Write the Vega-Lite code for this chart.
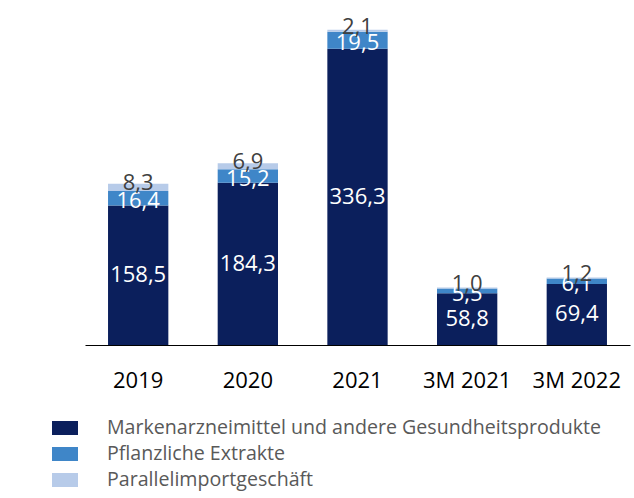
{
  "$schema": "https://vega.github.io/schema/vega-lite/v6.json",
  "autosize": {"type": "none"},
  "width": 545,
  "height": 317,
  "padding": {"left": 85, "top": 28, "right": 4, "bottom": 153},
  "config": {
    "view": {"stroke": null},
    "font": "Open Sans",
    "locale": {"number": {"decimal": ",", "thousands": ".", "grouping": [3], "currency": ["", " €"]}}
  },
  "data": {
    "values": [
      {"period": "2019", "series": "Markenarzneimittel und andere Gesundheitsprodukte", "order": 1, "value": 158.5},
      {"period": "2019", "series": "Pflanzliche Extrakte", "order": 2, "value": 16.4},
      {"period": "2019", "series": "Parallelimportgeschäft", "order": 3, "value": 8.3},
      {"period": "2020", "series": "Markenarzneimittel und andere Gesundheitsprodukte", "order": 1, "value": 184.3},
      {"period": "2020", "series": "Pflanzliche Extrakte", "order": 2, "value": 15.2},
      {"period": "2020", "series": "Parallelimportgeschäft", "order": 3, "value": 6.9},
      {"period": "2021", "series": "Markenarzneimittel und andere Gesundheitsprodukte", "order": 1, "value": 336.3},
      {"period": "2021", "series": "Pflanzliche Extrakte", "order": 2, "value": 19.5},
      {"period": "2021", "series": "Parallelimportgeschäft", "order": 3, "value": 2.1},
      {"period": "3M 2021", "series": "Markenarzneimittel und andere Gesundheitsprodukte", "order": 1, "value": 58.8},
      {"period": "3M 2021", "series": "Pflanzliche Extrakte", "order": 2, "value": 5.5},
      {"period": "3M 2021", "series": "Parallelimportgeschäft", "order": 3, "value": 1.0},
      {"period": "3M 2022", "series": "Markenarzneimittel und andere Gesundheitsprodukte", "order": 1, "value": 69.4},
      {"period": "3M 2022", "series": "Pflanzliche Extrakte", "order": 2, "value": 6.1},
      {"period": "3M 2022", "series": "Parallelimportgeschäft", "order": 3, "value": 1.2}
    ]
  },
  "transform": [
    {"stack": "value", "groupby": ["period"], "sort": [{"field": "order", "order": "ascending"}], "as": ["v0", "v1"]},
    {"calculate": "(datum.v0 + datum.v1) / 2", "as": "vmid"}
  ],
  "encoding": {
    "x": {
      "field": "period", "type": "nominal", "sort": null,
      "scale": {"paddingInner": 0.45, "paddingOuter": 0.21},
      "axis": {"title": null, "labelAngle": 0, "ticks": false, "domainColor": "#000000", "domainWidth": 1, "labelFontSize": 22, "labelColor": "#000000", "labelPadding": 25, "labelFont": "Open Sans"}
    }
  },
  "resolve": {"scale": {"y": "shared"}},
  "layer": [
    {
      "mark": {"type": "bar"},
      "encoding": {
        "y": {"field": "v0", "type": "quantitative", "scale": {"domain": [0, 360], "nice": false, "zero": true}, "axis": null},
        "y2": {"field": "v1"},
        "color": {
          "field": "series", "type": "nominal",
          "scale": {
            "domain": ["Markenarzneimittel und andere Gesundheitsprodukte", "Pflanzliche Extrakte", "Parallelimportgeschäft"],
            "range": ["#0b1f5c", "#3f86c8", "#b7cbe9"]
          },
          "legend": {
            "title": null, "orient": "none", "legendX": -33, "legendY": 387, "direction": "vertical",
            "symbolType": "M-1,-0.54H1V0.54H-1Z", "symbolSize": 676, "symbolStrokeWidth": 0,
            "labelFontSize": 19.6, "labelColor": "#595959", "labelOffset": 29, "rowPadding": 3, "labelLimit": 600, "labelFont": "Open Sans"
          }
        }
      }
    },
    {
      "transform": [{"filter": "datum.order === 1"}],
      "mark": {"type": "text", "fontSize": 22, "baseline": "middle", "align": "center", "color": "#ffffff"},
      "encoding": {
        "y": {"field": "vmid", "type": "quantitative", "scale": {"domain": [0, 360], "nice": false, "zero": true}},
        "text": {"field": "value", "type": "quantitative", "format": ".1f"}
      }
    },
    {
      "transform": [{"filter": "datum.order === 2"}],
      "mark": {"type": "text", "fontSize": 22, "baseline": "middle", "align": "center", "color": "#ffffff", "dy": 3},
      "encoding": {
        "y": {"field": "vmid", "type": "quantitative", "scale": {"domain": [0, 360], "nice": false, "zero": true}},
        "text": {"field": "value", "type": "quantitative", "format": ".1f"}
      }
    },
    {
      "transform": [{"filter": "datum.order === 3"}],
      "mark": {"type": "text", "fontSize": 22, "baseline": "middle", "align": "center", "color": "#404040", "dy": -4},
      "encoding": {
        "y": {"field": "vmid", "type": "quantitative", "scale": {"domain": [0, 360], "nice": false, "zero": true}},
        "text": {"field": "value", "type": "quantitative", "format": ".1f"}
      }
    }
  ]
}
